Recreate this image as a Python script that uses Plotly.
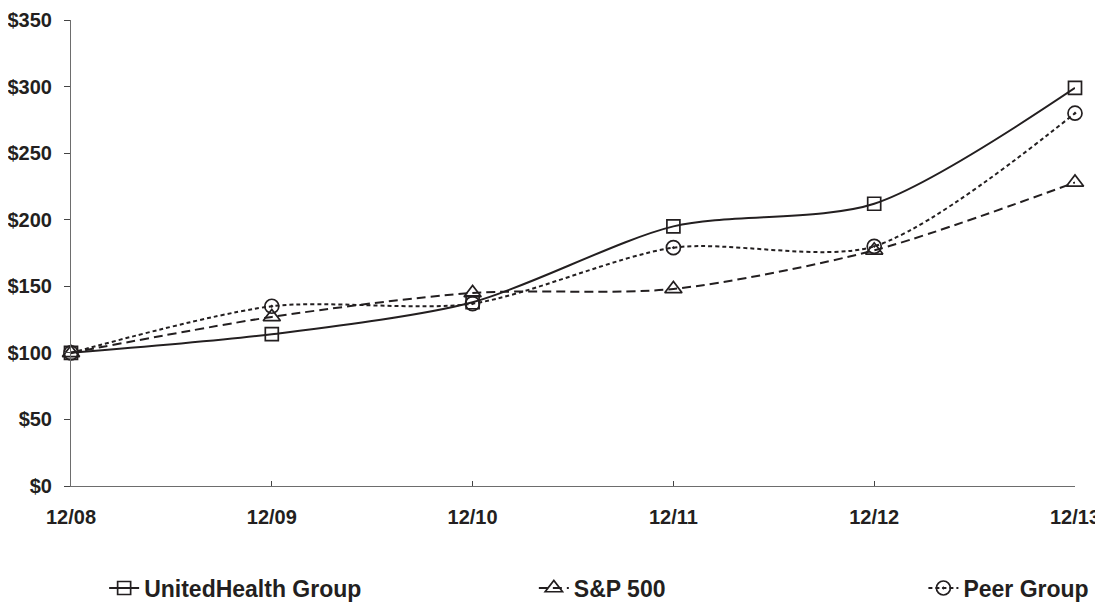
import plotly.graph_objects as go

periods = ["12/08", "12/09", "12/10", "12/11", "12/12", "12/13"]
unh = [100, 114, 138, 195, 212, 299]
sp500 = [100, 127, 145, 148, 177, 228]
peer = [100, 135, 137, 179, 180, 280]
y_ticks = [0, 50, 100, 150, 200, 250, 300, 350]
y_labels = ["$" + str(v) for v in y_ticks]

xs = list(range(len(periods)))
FONT = "Liberation Sans, Arial, sans-serif"
INK = "#231f20"

fig = go.Figure()
fig.add_trace(go.Scatter(
    x=xs, y=unh, name="UnitedHealth Group", mode="lines+markers",
    line=dict(color=INK, width=2, shape="spline", smoothing=0.8),
    marker=dict(symbol="square-open", size=13, color=INK, line=dict(width=1.7)),
    cliponaxis=False, legend="legend"))
fig.add_trace(go.Scatter(
    x=xs, y=sp500, name="S&P 500", mode="lines+markers",
    line=dict(color=INK, width=2, dash="9px,5px", shape="spline", smoothing=0.8),
    marker=dict(symbol="triangle-up-open", size=15, color=INK, line=dict(width=1.7)),
    cliponaxis=False, legend="legend2"))
fig.add_trace(go.Scatter(
    x=xs, y=peer, name="Peer Group", mode="lines+markers",
    line=dict(color=INK, width=2, dash="4px,3px", shape="spline", smoothing=0.8),
    marker=dict(symbol="circle-open-dot", size=14, color=INK, line=dict(width=1.7)),
    cliponaxis=False, legend="legend3"))

legend_common = dict(orientation="h", yanchor="middle", y=-0.219, xanchor="left",
                     font=dict(family=FONT, size=23, color=INK, weight="bold"),
                     bgcolor="rgba(0,0,0,0)", itemwidth=30, visible=True)
tick_font = dict(family=FONT, size=20, color=INK, weight="bold")
fig.update_layout(
    width=1095, height=600,
    margin=dict(l=63, r=28, t=12, b=122, autoexpand=False),
    paper_bgcolor="white", plot_bgcolor="white",
    font=dict(family=FONT, size=20, color=INK),
    showlegend=True,
    legend=dict(**legend_common, x=0.033),
    legend2=dict(**legend_common, x=0.461),
    legend3=dict(**legend_common, x=0.849),
    xaxis=dict(range=[0, 5], tickvals=xs, ticktext=periods, showgrid=False,
               zeroline=False, showline=True, linecolor="#6d6d6d", linewidth=1,
               ticks="inside", ticklen=5, tickcolor="#444",
               ticklabelstandoff=13, ticklabeloverflow="allow", tickfont=tick_font),
    yaxis=dict(range=[0, 350], tickvals=y_ticks, ticktext=y_labels, showgrid=False,
               zeroline=False, showline=True, linecolor="#6d6d6d", linewidth=1,
               ticks="outside", ticklen=6, tickcolor="#444",
               ticklabelstandoff=8, tickfont=tick_font),
)

fig.write_html("out.html")
